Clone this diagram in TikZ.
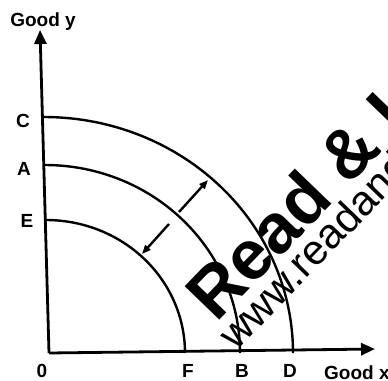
\documentclass[tikz,border=0pt]{standalone}
\usepackage{fontspec}
\setmainfont{Liberation Sans}
\usetikzlibrary{arrows.meta}
\begin{document}
\begin{tikzpicture}[x=1pt,y=-1pt,
  lbl/.style={font=\fontsize{19}{19}\selectfont\bfseries, inner sep=0pt},
  curve/.style={line width=2.4pt},
  ax/.style={line width=2.8pt,-{Triangle[length=14pt,width=12pt]}},
  shiftarr/.style={line width=2.4pt,-{Triangle[length=9pt,width=7pt]}},
  wm/.style={inner sep=0pt, rotate=46}]
\useasboundingbox (0,0) rectangle (388,380);
\clip (0,0) rectangle (388,380);
% watermark
\node[wm, anchor=base west, font=\fontsize{70}{70}\selectfont\bfseries] (wm1) at (216,324) {Read \& Learn};
\node[wm, anchor=base west, font=\fontsize{42}{42}\selectfont] (wm2) at (236,352) {www.readandlearn};
% axes
\coordinate (O) at (49,353);
\coordinate (ytop) at (40,30);
\coordinate (xend) at (375,349);
\draw[ax] (O) -- (ytop);
\draw[ax] (O) -- (xend);
% curves
\draw[curve] plot[domain=0:90, samples=60, smooth] ({44+249*cos(\x)},{353-236*sin(\x)});
\draw[curve] plot[domain=0:90, samples=60, smooth] ({45+195*cos(\x)},{353-188*sin(\x)});
\draw[curve] plot[domain=0:90, samples=60, smooth] ({46+139*cos(\x)},{353-133*sin(\x)});
% shift arrows
\coordinate (m1) at (179,212);
\coordinate (m2) at (169,224);
\coordinate (up) at (208,180);
\coordinate (dn) at (142,254);
\draw[shiftarr] (m1) -- (up);
\draw[shiftarr] (m2) -- (dn);
% labels
\node[lbl, anchor=base] (gy) at (43,27) {Good y};
\node[lbl] (lC) at (23,121) {C};
\node[lbl] (lA) at (24,169) {A};
\node[lbl] (lE) at (27,221) {E};
\node[lbl] (l0) at (42,371) {0};
\node[lbl] (lF) at (188,371) {F};
\node[lbl] (lB) at (242,371) {B};
\node[lbl] (lD) at (290,371) {D};
\node[lbl, anchor=base west] (gx) at (324,379) {Good x};
\end{tikzpicture}
\end{document}
